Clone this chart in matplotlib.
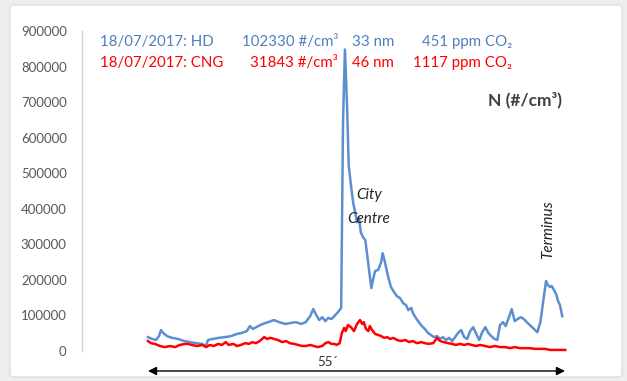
import matplotlib
matplotlib.use("Agg")
import matplotlib.pyplot as plt
from matplotlib.patches import FancyBboxPatch, FancyArrowPatch

plt.rcParams['font.family'] = ['Lato', 'DejaVu Sans']

# ---------------- data ----------------
hd_time = [0, 0.53, 1.06, 1.46, 1.72, 1.99, 2.52, 3.18, 3.98, 4.77, 5.57, 6.36, 7.16, 7.69,
           7.95, 8.61, 9.41, 10.2, 11.0, 11.8, 12.46, 13.1, 13.5, 13.9, 14.6, 15.2, 15.9, 16.7,
           17.4, 18.2, 18.95, 19.6, 20.3, 20.9, 21.5, 21.9, 22.3, 22.7, 23.1, 23.5, 23.9, 24.3,
           24.7, 25.2, 25.6, 25.85, 26.1, 26.4, 26.6, 26.9, 27.2, 27.4, 27.7, 27.97, 28.2, 28.5,
           28.8, 29.0, 29.3, 29.6, 29.8, 30.1, 30.5, 30.9, 31.1, 31.4, 31.8, 32.2, 32.6, 33.0,
           33.4, 33.8, 34.2, 34.5, 34.9, 35.1, 35.5, 35.9, 36.3, 36.7, 37.1, 37.5, 37.9, 38.3,
           38.7, 39.1, 39.5, 39.9, 40.3, 40.7, 41.1, 41.5, 41.9, 42.3, 42.7, 43.1, 43.5, 43.9,
           44.3, 44.7, 45.1, 45.5, 45.9, 46.3, 46.65, 47.05, 47.4, 47.8, 48.2, 48.6, 49.0, 49.4,
           49.8, 50.2, 50.6, 51.0, 51.6, 52.0, 52.4, 52.75, 53.0, 53.3, 53.5, 53.8, 54.1, 54.3,
           54.6, 54.9]
hd_n = [39000, 34000, 31000, 42000, 59000, 51000, 42000, 37000, 34000, 28000, 25000, 22000,
        20000, 14000, 31000, 34000, 37000, 39000, 42000, 48000, 51000, 56000, 70000, 62000,
        70000, 76000, 81000, 87000, 81000, 76000, 79000, 81000, 76000, 81000, 98000, 118000,
        101000, 87000, 95000, 84000, 93000, 90000, 98000, 110000, 121000, 649000, 848000,
        677000, 522000, 466000, 416000, 396000, 362000, 374000, 334000, 320000, 312000, 278000,
        228000, 177000, 199000, 225000, 228000, 250000, 275000, 250000, 211000, 180000, 166000,
        154000, 149000, 135000, 129000, 115000, 121000, 107000, 93000, 81000, 70000, 62000,
        51000, 45000, 39000, 42000, 34000, 39000, 31000, 37000, 28000, 39000, 51000, 59000,
        39000, 34000, 56000, 67000, 48000, 31000, 53000, 67000, 51000, 42000, 34000, 31000,
        73000, 81000, 70000, 93000, 118000, 84000, 90000, 95000, 90000, 81000, 73000, 65000,
        53000, 81000, 143000, 197000, 185000, 180000, 183000, 171000, 160000, 143000, 129000,
        98000]

cng_time = [0, 0.4, 0.9, 1.6, 2.25, 2.9, 3.6, 4.2, 4.9, 5.3, 5.8, 6.5, 7.2, 7.7, 8.2, 8.7, 9.3,
            9.8, 10.3, 10.7, 11.3, 11.8, 12.3, 12.9, 13.4, 13.8, 14.3, 14.8, 15.4, 15.8, 16.2,
            16.7, 17.2, 17.8, 18.3, 18.8, 19.35, 19.9, 20.4, 20.9, 21.5, 22.0, 22.5, 23.1, 23.5,
            23.9, 24.3, 24.7, 25.0, 25.4, 25.7, 26.0, 26.2, 26.5, 26.9, 27.3, 27.7, 28.1, 28.4,
            28.6, 28.9, 29.2, 29.4, 29.7, 30.1, 30.5, 30.9, 31.3, 31.7, 32.1, 32.5, 33.0, 33.5,
            34.1, 34.6, 35.1, 35.65, 36.2, 36.7, 37.2, 37.8, 38.3, 38.7, 39.2, 39.8, 40.3, 40.8,
            41.35, 41.9, 42.4, 42.9, 43.5, 44.0, 44.7, 45.3, 46.0, 46.65, 47.3, 48.0, 48.6, 49.3,
            50.0, 50.6, 51.3, 52.0, 52.6, 53.3, 53.9, 54.6, 55.3]
cng_n = [28000, 22000, 20000, 14000, 11000, 14000, 11000, 17000, 20000, 20000, 17000, 14000,
         17000, 11000, 17000, 14000, 20000, 17000, 25000, 17000, 20000, 14000, 17000, 22000,
         20000, 25000, 22000, 28000, 39000, 34000, 37000, 34000, 31000, 25000, 28000, 22000,
         20000, 17000, 14000, 14000, 17000, 14000, 11000, 14000, 22000, 25000, 20000, 20000,
         17000, 22000, 51000, 65000, 56000, 73000, 67000, 56000, 76000, 87000, 76000, 81000,
         62000, 56000, 70000, 59000, 48000, 45000, 42000, 37000, 39000, 34000, 37000, 31000,
         28000, 31000, 25000, 28000, 22000, 25000, 22000, 20000, 22000, 37000, 28000, 25000,
         22000, 20000, 17000, 20000, 17000, 20000, 17000, 14000, 17000, 14000, 11000, 14000,
         11000, 11000, 8000, 11000, 8000, 8000, 8000, 6000, 6000, 6000, 3000, 3000, 3000, 3000]

y_ticks = [0, 100000, 200000, 300000, 400000, 500000, 600000, 700000, 800000, 900000]

hd_label = ["18/07/2017: HD", "102330 #/cm³", "33 nm", "451 ppm CO₂"]
cng_label = ["18/07/2017: CNG", "31843 #/cm³", "46 nm", "1117 ppm CO₂"]
duration_label = "55´"

BLUE = "#5B8FD0"
BLUE_TXT = "#4F7FC0"
RED = "#FF0000"

W, H = 627, 381
fig = plt.figure(figsize=(W / 100, H / 100), dpi=100, facecolor="#EDEDED")


def fx(x):
    return x / W


def fy(y):
    return 1 - y / H


# white panel (behind everything)
panel = FancyBboxPatch((fx(10), fy(377)), fx(612), 372 / H,
                       boxstyle="round,pad=0,rounding_size=0.008",
                       transform=fig.transFigure, facecolor="white",
                       edgecolor="#D8D8D8", linewidth=0.8, zorder=-10)
fig.patches.append(panel)

# axes: x 0 -> px148, 55 -> px563 ; y 0 -> px351, 900000 -> px31
ax_left, ax_right = 82, 600
pxmin = 415 / 55
ax = fig.add_axes([fx(ax_left), fy(351), (ax_right - ax_left) / W, 320 / H])
ax.set_zorder(2)
ax.set_facecolor("none")
ax.set_xlim((ax_left - 148) / pxmin, (ax_right - 148) / pxmin)
ax.set_ylim(0, 900000)

ax.plot(hd_time, hd_n, color=BLUE, lw=1.8, clip_on=False, zorder=3)
ax.plot(cng_time, cng_n, color=RED, lw=1.8, clip_on=False, zorder=4)

ax.set_yticks(y_ticks)
ax.set_yticklabels([str(v) for v in y_ticks])
ax.tick_params(axis="y", length=0, pad=11, labelsize=9.5, labelcolor="#595959")
ax.set_xticks([])
for s in ["top", "right", "bottom"]:
    ax.spines[s].set_visible(False)
ax.spines["left"].set_color("#D0D0D0")
ax.spines["left"].set_linewidth(1.0)

# header texts
fs = 10.8
fig.text(fx(100), fy(42), hd_label[0], color=BLUE_TXT, fontsize=fs, va="center", ha="left")
fig.text(fx(338), fy(42), hd_label[1], color=BLUE_TXT, fontsize=fs, va="center", ha="right")
fig.text(fx(352), fy(42), hd_label[2], color=BLUE_TXT, fontsize=fs, va="center", ha="left")
fig.text(fx(512), fy(42), hd_label[3], color=BLUE_TXT, fontsize=fs, va="center", ha="right")

fig.text(fx(100), fy(63), cng_label[0], color=RED, fontsize=fs, va="center", ha="left")
fig.text(fx(338), fy(63), cng_label[1], color=RED, fontsize=fs, va="center", ha="right")
fig.text(fx(352), fy(63), cng_label[2], color=RED, fontsize=fs, va="center", ha="left")
fig.text(fx(512), fy(63), cng_label[3], color=RED, fontsize=fs, va="center", ha="right")

fig.text(fx(525), fy(100), "N (#/cm³)", color="#404040", fontsize=12.5, fontweight="bold",
         va="center", ha="center")

fig.text(fx(369), fy(195), "City", color="#222222", fontsize=11, style="italic",
         va="center", ha="center")
fig.text(fx(369), fy(219), "Centre", color="#222222", fontsize=11, style="italic",
         va="center", ha="center")
fig.text(fx(548), fy(230), "Terminus", color="#222222", fontsize=11, style="italic",
         rotation=90, va="center", ha="center")

# duration arrow
arrow = FancyArrowPatch((fx(148), fy(371)), (fx(565), fy(371)), transform=fig.transFigure,
                        arrowstyle="<|-|>,head_length=5,head_width=2.5", color="black",
                        lw=1.0, shrinkA=0, shrinkB=0)
fig.patches.append(arrow)
fig.text(fx(328), fy(362), duration_label, color="#333333", fontsize=9.5,
         va="center", ha="center")

fig.savefig("out.png", dpi=100, facecolor=fig.get_facecolor())
